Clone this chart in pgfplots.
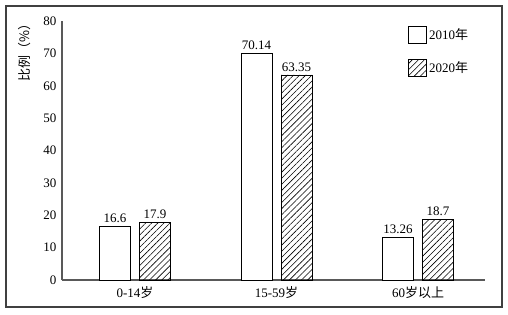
\documentclass[border=0pt]{standalone}
\usepackage{pgfplots}
\pgfplotsset{compat=1.18}
\usepackage{fontspec}
\setmainfont{Liberation Serif}
\newfontfamily\cjk{Noto Sans CJK SC}
\usetikzlibrary{patterns.meta}
\begin{document}
\begin{tikzpicture}
\useasboundingbox (-62pt,-34pt) rectangle (446pt,280pt);
\draw[line width=1.2pt, black!75] (-56pt,-27pt) rectangle (440pt,274pt);
\begin{axis}[
  at={(0pt,0pt)}, anchor=south west,
  width=423pt, height=259pt, scale only axis,
  xmin=-0.516, xmax=2.473, ymin=0, ymax=80,
  axis lines*=left,
  axis line style={draw=black!65, line width=1.3pt},
  major tick length=0pt,
  tick style={draw=none},
  ytick={0,10,...,80},
  xtick={0,1,2},
  xticklabels={0-14{\cjk 岁}, 15-59{\cjk 岁}, 60{\cjk 岁以上}},
  tick label style={font=\fontsize{13}{15}\selectfont},
  /pgf/number format/assume math mode=true,
  yticklabel style={xshift=-2pt},
  xticklabel style={yshift=-3pt},
  ybar, bar width=31pt,
  point meta=explicit symbolic,
  nodes near coords,
  nodes near coords style={font=\fontsize{13}{15}\selectfont, inner sep=1pt, yshift=2pt},
  legend image code/.code={\draw[#1] (0pt,-8.5pt) rectangle (18pt,8.5pt);},
  legend style={draw=none, fill=none, inner sep=0pt, at={(0.818,0.981)}, anchor=north west,
    row sep=15pt, font=\fontsize{13}{15}\selectfont, legend cell align=left,
    nodes={inner sep=2pt}},
  clip=false,
]
\addplot[bar shift=-20pt, draw=black, line width=0.8pt, fill=white]
  coordinates {(0,16.6) [16.6] (1,70.14) [70.14] (2,13.26) [13.26]};
\addlegendentry{2010{\cjk 年}}
\addplot[bar shift=20pt, draw=black, line width=0.8pt,
  pattern={Lines[angle=45, distance=4.3pt, line width=0.6pt]}]
  coordinates {(0,17.9) [17.9] (1,63.35) [63.35] (2,18.7) [18.7]};
\addlegendentry{2020{\cjk 年}}
\node[rotate=90, font=\fontsize{13}{15}\selectfont\cjk] at (rel axis cs:-0.088,0.89) {比例（\%）};
\end{axis}
\end{tikzpicture}
\end{document}
